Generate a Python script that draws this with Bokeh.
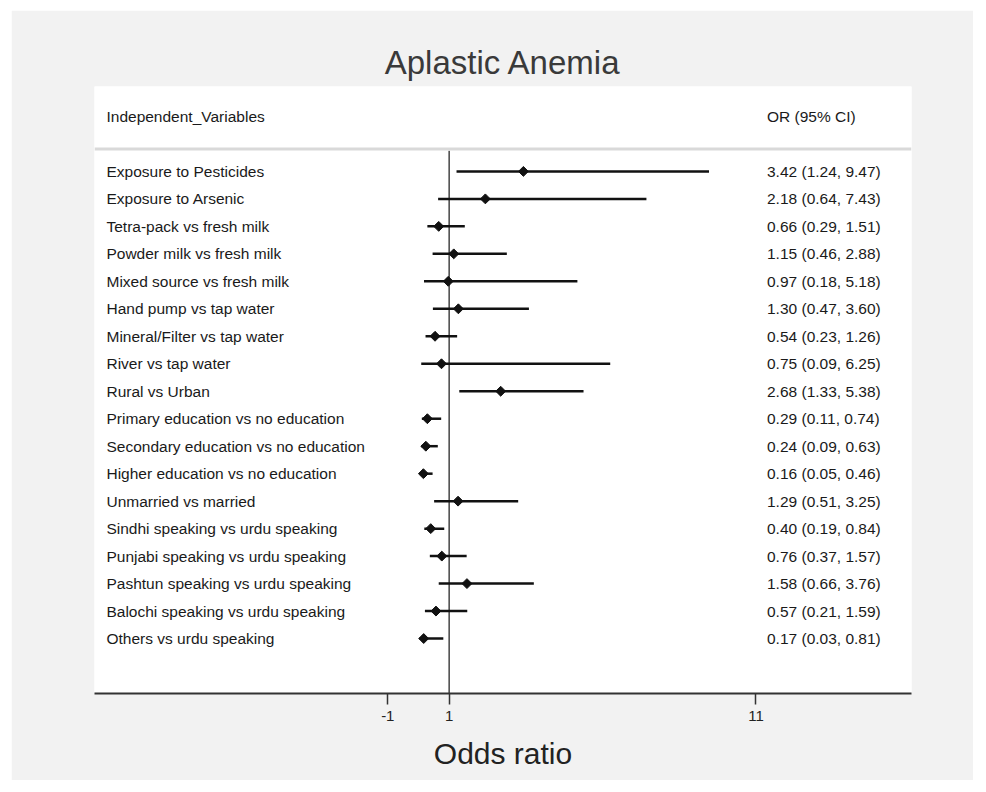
import math
from bokeh.plotting import figure
from bokeh.layouts import column, row
from bokeh.models import Range1d, FixedTicker, Span, ColumnDataSource, Spacer
from bokeh.core.properties import value
from bokeh.embed import file_html
from bokeh.resources import INLINE

# ---------------- data ----------------
variables = [
    "Exposure to Pesticides",
    "Exposure to Arsenic",
    "Tetra-pack vs fresh milk",
    "Powder milk vs fresh milk",
    "Mixed source vs fresh milk",
    "Hand pump vs tap water",
    "Mineral/Filter vs tap water",
    "River vs tap water",
    "Rural vs Urban",
    "Primary education vs no education",
    "Secondary education vs no education",
    "Higher education vs no education",
    "Unmarried vs married",
    "Sindhi speaking vs urdu speaking",
    "Punjabi speaking vs urdu speaking",
    "Pashtun speaking vs urdu speaking",
    "Balochi speaking vs urdu speaking",
    "Others vs urdu speaking",
]
odds_ratio = [3.42, 2.18, 0.66, 1.15, 0.97, 1.30, 0.54, 0.75, 2.68, 0.29, 0.24, 0.16, 1.29, 0.40, 0.76, 1.58, 0.57, 0.17]
ci_lower = [1.24, 0.64, 0.29, 0.46, 0.18, 0.47, 0.23, 0.09, 1.33, 0.11, 0.09, 0.05, 0.51, 0.19, 0.37, 0.66, 0.21, 0.03]
ci_upper = [9.47, 7.43, 1.51, 2.88, 5.18, 3.60, 1.26, 6.25, 5.38, 0.74, 0.63, 0.46, 3.25, 0.84, 1.57, 3.76, 1.59, 0.81]
x_ticks = [-1, 1, 11]
x_tick_labels = ["-1", "1", "11"]
title_text = "Aplastic Anemia"
x_title = "Odds ratio"
header_left = "Independent_Variables"
header_right = "OR (95% CI)"

# ---------------- layout constants ----------------
FONT = "Liberation Sans"
BG = "#f2f2f2"
rows = list(range(1, len(variables) + 1))
labels_ci = [f"{o:.2f} ({l:.2f}, {u:.2f})" for o, l, u in zip(odds_ratio, ci_lower, ci_upper)]

src = ColumnDataSource(dict(
    y=rows, var=variables, orr=odds_ratio, lo=ci_lower, hi=ci_upper, txt=labels_ci,
))

p = figure(
    width=962, height=770,
    x_range=Range1d(-10.56, 16.07),
    y_range=Range1d(20.0, -2.09),
    output_backend="svg", toolbar_location=None,
    min_border_left=83, min_border_right=62, min_border_top=76, min_border_bottom=87,
    background_fill_color="white", border_fill_color=BG,
)
p.outline_line_color = None
p.xgrid.visible = False
p.ygrid.visible = False
p.yaxis.visible = False

p.title.text = title_text
p.title.align = "center"
p.title.text_font = FONT
p.title.text_font_size = "33px"
p.title.text_font_style = "normal"
p.title.text_color = "#3a3a3a"
p.title.offset = -12
p.title.standoff = 11

xa = p.xaxis[0]
xa.ticker = FixedTicker(ticks=x_ticks)
xa.major_label_overrides = {t: s for t, s in zip(x_ticks, x_tick_labels)}
xa.minor_tick_line_color = None
xa.major_tick_in = 0
xa.major_tick_out = 11
xa.major_tick_line_width = 1.5
xa.major_tick_line_color = "#333333"
xa.axis_line_width = 2
xa.axis_line_color = "#333333"
xa.major_label_text_font = FONT
xa.major_label_text_font_size = "15px"
xa.major_label_text_color = "#222222"
xa.major_label_standoff = 6
xa.axis_label = x_title
xa.axis_label_text_font = FONT
xa.axis_label_text_font_size = "30px"
xa.axis_label_text_font_style = "normal"
xa.axis_label_text_color = "#222222"
xa.axis_label_standoff = 13

# header separator
p.add_layout(Span(location=0.18, dimension="width", line_color="#d9d9d9", line_width=3))
# null line
p.segment(x0=1, y0=0.25, x1=1, y1=20.0, line_color="#444444", line_width=1.5)

# CI lines and point estimates
p.segment(x0="lo", y0="y", x1="hi", y1="y", source=src, line_color="#111111", line_width=2.5)
p.scatter(x="orr", y="y", source=src, marker="square", size=7, angle=math.pi / 4,
          fill_color="#111111", line_color="#111111", line_width=1)

# text columns
LABEL_X = -10.17
VALUE_X = 11.36
p.text(x=LABEL_X, y="y", text="var", source=src, text_font=value(FONT), text_font_size="15.5px",
       text_baseline="middle", text_align="left", text_color="#1a1a1a")
p.text(x=VALUE_X, y="y", text="txt", source=src, text_font=value(FONT), text_font_size="15.5px",
       text_baseline="middle", text_align="left", text_color="#1a1a1a")
p.text(x=[LABEL_X], y=[-1], text=[header_left], text_font=value(FONT), text_font_size="15.5px",
       text_baseline="middle", text_align="left", text_color="#1a1a1a")
p.text(x=[VALUE_X], y=[-1], text=[header_right], text_font=value(FONT), text_font_size="15.5px",
       text_baseline="middle", text_align="left", text_color="#1a1a1a")

layout = column(Spacer(height=10, width=10), row(Spacer(width=11, height=10), p))
open("out.html", "w").write(file_html(layout, INLINE))
